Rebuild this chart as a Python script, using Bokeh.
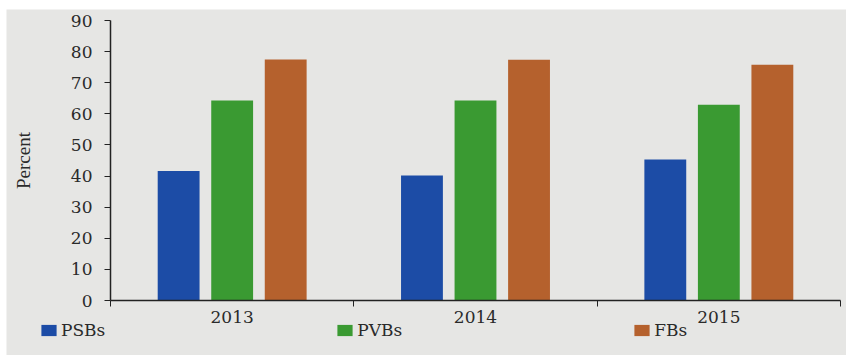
from bokeh.plotting import figure
from bokeh.models import ColumnDataSource, FixedTicker, Legend, LegendItem, Range1d
from bokeh.embed import file_html
from bokeh.resources import INLINE

years = ["2013", "2014", "2015"]
series = ["PSBs", "PVBs", "FBs"]
psbs = [41.6, 40.2, 45.3]
pvbs = [64.3, 64.3, 62.9]
fbs = [77.5, 77.4, 75.8]
colors = ["#1c4ca6", "#3a9a32", "#b5612d"]
y_ticks = [0, 10, 20, 30, 40, 50, 60, 70, 80, 90]

BG = "#e6e6e4"
FONT = "DejaVu Serif"
TXT = "#2a2a2a"

# frame covers the whole canvas; axes are pinned at x=0 / y=0 inside it
X_PX = 730.0 / 3      # px per category
Y_PX = 280.0 / 90     # px per percent
p = figure(width=840, height=346, output_backend="svg", toolbar_location=None,
           x_range=Range1d(-104 / X_PX, 3 + 6 / X_PX),
           y_range=Range1d(-55 / Y_PX, 90 + 11 / Y_PX),
           min_border=0, min_border_left=0, min_border_right=0, min_border_top=0, min_border_bottom=0)
p.margin = (9, 0, 0, 6)
p.background_fill_color = BG
p.border_fill_color = BG
p.outline_line_color = None
p.grid.visible = False

offsets = [-0.22, 0.0, 0.22]
bar_w = 0.172
renderers = []
for vals, off, col in zip([psbs, pvbs, fbs], offsets, colors):
    src = ColumnDataSource(dict(x=[i + 0.5 + off for i in range(len(years))], top=vals))
    r = p.vbar(x="x", top="top", width=bar_w, bottom=0, source=src, fill_color=col, line_color=None)
    renderers.append(r)

# x axis: labels at group centers, ticks at group boundaries
xa = p.xaxis[0]
xa.fixed_location = 0
xa.bounds = (0, len(years))
xa.ticker = FixedTicker(ticks=[i + 0.5 for i in range(len(years))], minor_ticks=list(range(len(years) + 1)))
xa.major_label_overrides = {i + 0.5: y for i, y in enumerate(years)}
xa.major_tick_out = 0
xa.major_tick_in = 0
xa.minor_tick_out = 6
xa.minor_tick_in = 0
xa.minor_tick_line_color = "#222222"
xa.axis_line_color = "#222222"
xa.axis_line_width = 1.5
xa.major_label_text_font = FONT
xa.major_label_text_font_size = "17px"
xa.major_label_text_color = TXT
xa.major_label_standoff = 4

ya = p.yaxis[0]
ya.fixed_location = 0
ya.bounds = (0, 90)
ya.ticker = FixedTicker(ticks=y_ticks)
ya.minor_tick_line_color = None
ya.major_tick_out = 6
ya.major_tick_in = 0
ya.major_tick_line_color = "#222222"
ya.axis_line_color = "#222222"
ya.axis_line_width = 1.5
ya.major_label_text_font = FONT
ya.major_label_text_font_size = "17px"
ya.major_label_text_color = TXT
ya.major_label_standoff = 12
ya.axis_label = "Percent"
ya.axis_label_text_font = "Liberation Serif"
ya.axis_label_text_font_size = "19px"
ya.axis_label_text_font_style = "normal"
ya.axis_label_text_color = TXT
ya.axis_label_standoff = 34

legend = Legend(items=[LegendItem(label=s, renderers=[r]) for s, r in zip(series, renderers)],
                orientation="horizontal", location=(33, 15), spacing=230,
                glyph_width=19, glyph_height=14, label_height=16, label_standoff=3,
                padding=0, margin=0, background_fill_alpha=0, border_line_alpha=0,
                label_text_font=FONT, label_text_font_size="17px", label_text_color=TXT)
p.add_layout(legend)

open("out.html", "w").write(file_html(p, INLINE))
